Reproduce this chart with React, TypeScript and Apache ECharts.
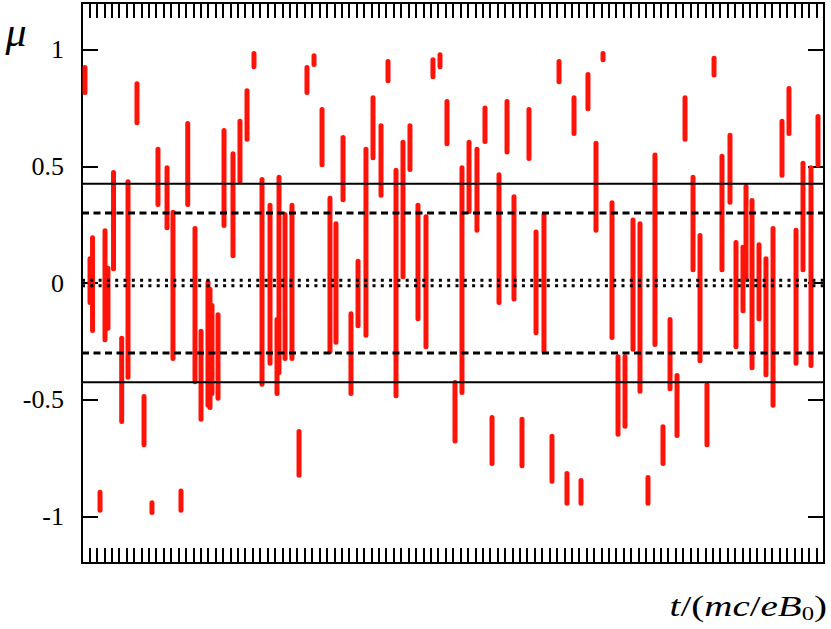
import React, { useEffect, useRef } from "react";
import * as echarts from "echarts";

// time positions of each trapped-particle streak (arbitrary t units, 0..100)
const streakT = [
  0.4, 1.08, 1.42, 2.43, 3.1, 3.5, 4.25, 5.35, 6.2, 7.41, 8.36, 9.43, 10.24, 11.46, 12.26, 13.34,
  14.25, 15.23, 16.04, 16.98, 17.25, 17.52, 18.33, 19.14, 20.35, 21.29, 22.24, 23.18, 24.26, 25.34,
  26.28, 26.55, 27.36, 28.3, 29.25, 30.32, 31.27, 32.35, 33.42, 34.23, 35.18, 36.25, 37.2, 38.27,
  39.22, 40.3, 41.24, 42.32, 43.26, 44.2, 45.28, 46.36, 47.3, 48.25, 49.19, 50.27, 51.21, 52.16,
  53.23, 54.31, 55.26, 56.2, 57.28, 58.22, 59.3, 60.24, 61.19, 62.26, 63.34, 64.29, 65.36, 66.31,
  67.25, 68.19, 69.27, 70.22, 71.43, 72.24, 73.18, 74.26, 75.2, 76.28, 77.22, 78.3, 79.25, 80.19,
  81.27, 82.35, 83.29, 84.23, 85.18, 86.25, 87.33, 88.14, 89.08, 89.49, 90.3, 91.24, 92.18, 93.13,
  94.34, 95.28, 96.23, 97.17, 98.25, 99.19,
];
// upper end of each streak in mu
const streakHigh = [
  0.93, 0.11, 0.2, -0.89, 0.23, 0.07, 0.48, -0.23, 0.44, 0.86, -0.48, -0.935, 0.58, 0.5, 0.31, -0.885,
  0.69, 0.24, -0.2, 0.01, -0.02, -0.09, -0.13, 0.66, 0.56, 0.7, 0.83, 0.99, 0.45, 0.34,
  -0.15, 0.46, 0.3, 0.34, -0.63, 0.93, 0.98, 0.75, 0.37, 0.26, 0.63, -0.125, 0.1, 0.58,
  0.8, 0.68, 0.956, 0.49, 0.61, 0.68, 0.34, 0.29, 0.963, 0.985, 0.784, -0.42, 0.5, 0.61,
  0.58, 0.756, -0.57, 0.47, 0.784, 0.376, -0.577, 0.75, 0.225, 0.3, -0.65, 0.956, -0.81, 0.8,
  -0.84, 0.9, 0.605, 0.99, 0.35, -0.31, -0.31, 0.276, 0.26, -0.827, 0.555, -0.61, -0.15, -0.39,
  0.8, 0.46, 0.21, -0.43, 0.97, 0.55, 0.64, 0.18, 0.16, 0.42, 0.36, 0.17, 0.11, 0.24,
  0.7, 0.84, 0.233, 0.52, 0.5, 0.72,
];
// lower end of each streak in mu
const streakLow = [
  0.81, -0.09, -0.21, -0.98, -0.25, -0.2, 0.055, -0.6, -0.41, 0.68, -0.7, -0.99, 0.33, 0.23, -0.33, -0.98,
  0.33, -0.43, -0.59, -0.53, -0.54, -0.48, -0.5, 0.24, 0.11, 0.43, 0.61, 0.92, -0.44, -0.35,
  -0.48, -0.39, -0.33, -0.33, -0.83, 0.81, 0.93, 0.5, -0.3, -0.26, 0.35, -0.48, -0.19, -0.23,
  0.53, 0.37, 0.86, -0.49, 0.02, 0.48, -0.16, -0.28, 0.877, 0.92, 0.59, -0.684, -0.476, 0.3,
  0.22, 0.6, -0.78, -0.09, 0.555, -0.075, -0.79, 0.527, -0.22, -0.3, -0.856, 0.856, -0.95, 0.634,
  -0.95, 0.74, 0.22, 0.95, -0.24, -0.655, -0.62, -0.29, -0.47, -0.95, -0.27, -0.78, -0.46, -0.66,
  0.61, 0.05, -0.34, -0.7, 0.885, 0.05, 0.34, -0.28, -0.125, 0.01, -0.37, -0.16, -0.4, -0.53,
  0.455, 0.634, -0.35, 0.05, -0.36, 0.5,
];

const yTicks = [-1, -0.5, 0, 0.5, 1];
const solidLevels = [0.425, -0.425];
const dashedLevels = [0.3, -0.3];
const dottedLevels = [0.012, -0.012];
const tRange = [0, 100];

export default function App() {
  const ref = useRef<HTMLDivElement>(null);
  useEffect(() => {
    if (!ref.current) return;
    const chart = echarts.init(ref.current, null, { renderer: "svg" });
    const streaks = streakT.map((t, i) => [t, streakHigh[i], streakLow[i]]);
    const levelSeries = (levels: number[], type: any, width: number) =>
      levels.map((v) => ({
        type: "line",
        data: [
          [tRange[0], v],
          [tRange[1], v],
        ],
        symbol: "none",
        silent: true,
        z: 5,
        lineStyle: { color: "#000", width, type },
      }));
    const xAxisBase = {
      type: "value",
      min: tRange[0],
      max: tRange[1],
      interval: 1,
      axisLine: { show: false, onZero: false },
      axisLabel: { show: false },
      splitLine: { show: false },
      axisTick: { show: true, inside: true, length: 15, lineStyle: { color: "#000", width: 2 } },
    };
    const yAxisBase = {
      type: "value",
      min: -1.2,
      max: 1.2,
      axisLine: { show: false, onZero: false },
      splitLine: { show: false },
      axisTick: {
        show: true,
        inside: true,
        length: 16,
        customValues: yTicks,
        lineStyle: { color: "#000", width: 2 },
      },
    };
    const serif = "Liberation Serif";
    chart.setOption({
      animation: false,
      backgroundColor: "#fff",
      grid: {
        left: 82,
        right: 7,
        top: 3,
        bottom: 66,
        show: true,
        borderColor: "#000",
        borderWidth: 2,
        backgroundColor: "transparent",
      },
      xAxis: [
        { ...xAxisBase, position: "bottom" },
        { ...xAxisBase, position: "top" },
      ],
      yAxis: [
        {
          ...yAxisBase,
          position: "left",
          axisLabel: {
            show: true,
            customValues: yTicks,
            margin: 18,
            color: "#000",
            fontFamily: serif,
            fontSize: 26,
            formatter: (v: number) => String(v),
          },
        },
        { ...yAxisBase, position: "right", axisLabel: { show: false } },
      ],
      graphic: [
        {
          type: "text",
          x: 16,
          y: 32,
          style: {
            text: "μ",
            fontFamily: serif,
            fontStyle: "italic",
            fontSize: 42,
            fill: "#000",
            align: "center",
            verticalAlign: "middle",
          },
        },
        {
          type: "text",
          x: 827,
          y: 606,
          scaleX: 1.3,
          style: {
            text: "{i|t}{r|/(}{i|mc}{r|/}{i|eB}{s|0}{r|)}",
            align: "right",
            verticalAlign: "middle",
            fill: "#000",
            rich: {
              i: { fontFamily: serif, fontStyle: "italic", fontSize: 30, lineHeight: 34, fill: "#000" },
              r: { fontFamily: serif, fontSize: 30, lineHeight: 34, fill: "#000" },
              s: { fontFamily: serif, fontSize: 19, lineHeight: 34, verticalAlign: "bottom", fill: "#000" },
            },
          },
        },
      ],
      series: [
        {
          type: "custom",
          clip: true,
          z: 2,
          data: streaks,
          encode: { x: 0, y: [1, 2] },
          renderItem: (params: any, api: any) => {
            const p1 = api.coord([api.value(0), api.value(1)]);
            const p2 = api.coord([api.value(0), api.value(2)]);
            const w = 5;
            return {
              type: "rect",
              shape: { x: p1[0] - w / 2, y: p1[1] - 1, width: w, height: p2[1] - p1[1] + 2, r: 2.5 },
              style: { fill: "#ff1208" },
            };
          },
        },
        ...levelSeries(solidLevels, "solid", 2),
        ...levelSeries(dashedLevels, [7, 4.5], 3),
        ...levelSeries(dottedLevels, [3, 5.3], 3),
      ],
    });
    return () => chart.dispose();
  }, []);
  return (
    <div
      ref={ref}
      style={{ position: "fixed", left: 0, top: 0, width: 831, height: 629, background: "#fff" }}
    />
  );
}
